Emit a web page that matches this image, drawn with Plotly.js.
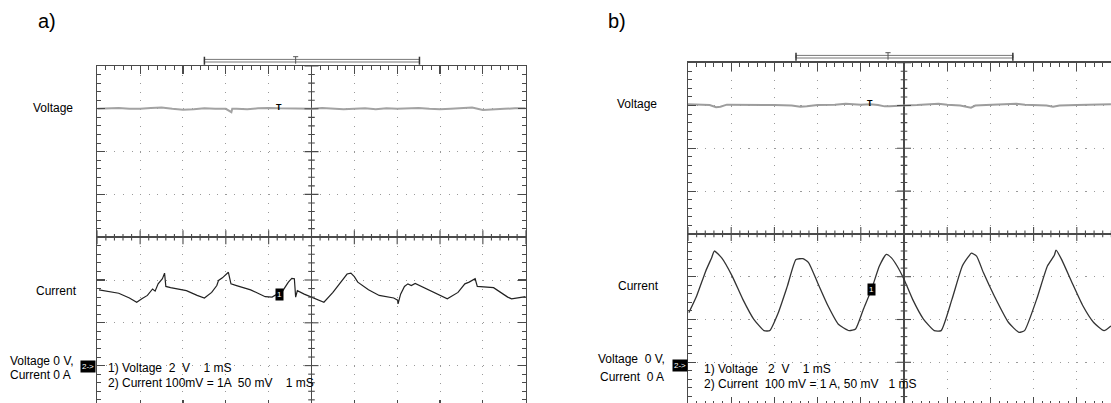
<!DOCTYPE html>
<html><head><meta charset="utf-8">
<script src="https://cdn.plot.ly/plotly-3.0.1.min.js"></script>
<style>html,body{margin:0;padding:0;overflow:hidden;background:#fff;width:1111px;height:403px}#plot{width:1125px;height:412px}</style>
</head><body><div id="plot"></div><script>
// ---- data (time in divisions of 1 mS, amplitude in divisions) ----
const panelLabels = ['a)', 'b)'];
const channelNames = ['Voltage', 'Current'];
const offsetTextA = ['Voltage 0 V,', 'Current 0 A'];
const offsetTextB = ['Voltage\u00A0 0 V,', 'Current\u00A0 0 A'];
const legendA = ['1) Voltage \u00A02 \u00A0V \u00A0\u00A0 1 mS', '2) Current 100mV = 1A \u00A050 mV \u00A0\u00A0 1 mS'];
const legendB = ['1) Voltage \u00A0 2 \u00A0V \u00A0\u00A0 1 mS', '2) Current \u00A0100 mV = 1 A, 50 mV \u00A0 1 mS'];

const voltA_t = [-5.0,-4.75,-4.5,-4.25,-4.0,-3.75,-3.5,-3.25,-3.0,-2.75,-2.5,-2.25,-2.0,-1.87,-1.85,-1.75,-1.5,-1.25,-1.0,-0.75,-0.5,-0.25,0.0,0.25,0.5,0.75,1.0,1.25,1.5,1.75,2.0,2.25,2.5,2.75,3.0,3.25,3.5,3.75,4.0,4.25,4.5,4.75,5.0];
const voltA_v = [3.00,3.01,3.02,3.00,3.00,3.02,3.03,3.00,2.98,2.99,3.01,3.00,3.00,2.92,3.00,3.00,2.99,3.01,3.02,3.01,3.01,3.00,3.00,3.02,3.01,2.99,3.00,3.01,2.99,3.01,3.00,3.01,3.02,3.00,2.99,3.00,3.01,3.03,2.97,2.99,3.00,3.01,3.01];

const currA_t = [-4.96,-4.5,-4.25,-4.08,-3.96,-3.83,-3.71,-3.65,-3.58,-3.48,-3.43,-3.40,-3.29,-2.92,-2.67,-2.5,-2.33,-2.21,-2.17,-2.08,-1.94,-1.88,-1.75,-1.42,-1.08,-0.92,-0.67,-0.54,-0.46,-0.40,-0.37,-0.33,-0.17,0.0,0.29,0.5,0.71,0.83,0.92,1.0,1.08,1.33,1.58,1.92,2.01,2.02,2.08,2.17,2.25,2.33,2.42,2.75,3.17,3.42,3.58,3.68,3.82,3.87,4.25,4.58,4.67,5.0];
const currA_v = [-1.23,-1.31,-1.42,-1.52,-1.44,-1.36,-1.21,-1.26,-1.09,-0.97,-0.84,-1.15,-1.18,-1.25,-1.36,-1.42,-1.29,-1.13,-1.01,-0.95,-0.82,-1.09,-1.13,-1.23,-1.39,-1.40,-1.25,-1.05,-0.96,-0.97,-1.40,-1.25,-1.33,-1.40,-1.52,-1.29,-1.01,-0.86,-0.84,-0.92,-1.05,-1.23,-1.36,-1.42,-1.47,-1.56,-1.33,-1.15,-1.09,-1.13,-1.08,-1.23,-1.44,-1.29,-1.09,-1.05,-0.97,-1.15,-1.18,-1.40,-1.44,-1.39];

const voltB_t = [-5.0,-4.75,-4.5,-4.35,-4.25,-4.1,-3.75,-3.5,-3.0,-2.6,-2.4,-2.25,-2.0,-1.6,-1.35,-1.0,-0.78,-0.6,-0.45,-0.33,-0.1,0.0,0.3,0.6,0.8,1.0,1.3,1.55,1.65,1.9,2.3,2.6,2.8,3.3,3.45,3.6,4.0,4.4,4.79];
const voltB_v = [3.03,3.02,3.01,2.96,2.97,3.02,3.02,3.01,3.01,3.00,2.97,2.98,3.01,3.02,3.04,3.02,3.03,3.01,2.98,2.98,3.00,3.00,3.01,3.02,3.04,3.02,3.00,2.95,3.00,3.01,3.02,3.04,3.02,3.00,2.97,3.00,3.01,3.02,3.03];

const currB_t = [-4.98,-4.8,-4.59,-4.45,-4.39,-4.22,-3.98,-3.73,-3.48,-3.24,-3.11,-2.91,-2.70,-2.5,-2.34,-2.21,-2.0,-1.76,-1.52,-1.27,-1.12,-0.94,-0.75,-0.57,-0.41,-0.29,-0.16,0.0,0.2,0.45,0.70,0.86,1.11,1.35,1.50,1.56,1.68,1.84,2.09,2.42,2.66,2.79,3.07,3.32,3.48,3.52,3.65,3.89,4.14,4.39,4.63,4.79];
const currB_v = [-1.84,-1.45,-0.87,-0.55,-0.40,-0.56,-0.98,-1.53,-1.99,-2.26,-2.26,-1.84,-1.22,-0.60,-0.58,-0.67,-1.14,-1.68,-2.11,-2.26,-2.22,-1.76,-1.29,-0.75,-0.48,-0.56,-0.75,-1.06,-1.53,-1.99,-2.26,-2.26,-1.53,-0.75,-0.52,-0.45,-0.52,-0.91,-1.45,-2.07,-2.30,-2.26,-1.53,-0.75,-0.50,-0.38,-0.60,-1.14,-1.68,-2.07,-2.26,-2.15];

const trigA = {t: -0.75, v: -1.35};
const trigB = {t: -0.75, v: -1.30};
const markA = {t: -0.77, v: 3.0};
const markB = {t: -0.78, v: 3.0};
const bracket = {from: -2.5, to: 2.52, mid: -0.37};

// ---- layout geometry (pixels) ----
const W = 1125, H = 412;
const px = x => x / W, py = y => 1 - y / H;
const A = {l: 97.3, r: 525.7, t: 66, b: 408.4};
const B = {l: 688, r: 1120, t: 62.7, b: 405.1};
const frameCol = '#4a4a4a';
const font = {family: 'Liberation Sans, Arial, sans-serif', size: 12, color: '#000'};

function axis(dom, rng, dash) {
  return {
    domain: dom, range: rng, fixedrange: true,
    showline: true, linecolor: frameCol, linewidth: 1.5, mirror: 'ticks',
    ticks: 'inside', dtick: 1, tick0: 0, ticklen: 8, tickwidth: 1.2, tickcolor: frameCol,
    minor: {dtick: 0.2, tick0: 0, ticks: 'inside', ticklen: 4, tickwidth: 1, tickcolor: frameCol, showgrid: false},
    showticklabels: false,
    showgrid: true, gridcolor: '#9a9a9a', gridwidth: 1, griddash: dash,
    zeroline: true, zerolinecolor: frameCol, zerolinewidth: 1.6
  };
}

const layout = {
  width: W, height: H, margin: {l: 0, r: 0, t: 0, b: 0},
  paper_bgcolor: '#fff', plot_bgcolor: '#fff', showlegend: false, font: font,
  xaxis: Object.assign(axis([px(A.l), px(A.r)], [-5, 5], '1px,7.56px'), {anchor: 'y'}),
  yaxis: Object.assign(axis([py(A.b), py(A.t)], [-4, 4], '1px,7.57px'), {anchor: 'x'}),
  xaxis2: Object.assign(axis([px(B.l), px(B.r)], [-5, 5], '1px,7.56px'), {anchor: 'y2'}),
  yaxis2: Object.assign(axis([py(B.b), py(B.t)], [-4, 4], '1.2px,7.44px'), {anchor: 'x2'}),
  shapes: [], annotations: []
};

// center cross tick marks
function centerTicks(xa, ya, xDivPx, yDivPx) {
  for (let k = -25; k <= 25; k++) {
    const h = (k % 5 === 0 ? 7 : 3.3) / yDivPx;
    layout.shapes.push({type: 'line', xref: xa, yref: ya, x0: k / 5, x1: k / 5, y0: -h, y1: h, line: {color: frameCol, width: 1.1}});
  }
  for (let k = -20; k <= 20; k++) {
    const h = (k % 5 === 0 ? 7 : 3.3) / xDivPx;
    layout.shapes.push({type: 'line', xref: xa, yref: ya, y0: k / 5, y1: k / 5, x0: -h, x1: h, line: {color: frameCol, width: 1.1}});
  }
}
centerTicks('x', 'y', (A.r - A.l) / 10, (A.b - A.t) / 8);
centerTicks('x2', 'y2', (B.r - B.l) / 10, (B.b - B.t) / 8);

// trigger bracket above each screen
function bracketShapes(xa, yPix) {
  layout.shapes.push({type: 'rect', xref: xa, yref: 'paper', x0: bracket.from, x1: bracket.to, y0: py(yPix + 1.3), y1: py(yPix - 1.3), line: {color: '#777', width: 1}, fillcolor: '#fff'});
  [bracket.from, bracket.to].forEach(x => layout.shapes.push({type: 'line', xref: xa, yref: 'paper', x0: x, x1: x, y0: py(yPix + 4), y1: py(yPix - 4), line: {color: '#333', width: 1.5}}));
  layout.shapes.push({type: 'line', xref: xa, yref: 'paper', x0: bracket.mid, x1: bracket.mid, y0: py(yPix + 3), y1: py(yPix - 4), line: {color: '#555', width: 1}});
  layout.shapes.push({type: 'line', xref: xa, yref: 'paper', x0: bracket.mid - 0.06, x1: bracket.mid + 0.06, y0: py(yPix - 4), y1: py(yPix - 4), line: {color: '#555', width: 1}});
}
bracketShapes('x', 60.7);
bracketShapes('x2', 56.7);

function ann(o) { layout.annotations.push(Object.assign({showarrow: false, xref: 'paper', yref: 'paper', font: font, yanchor: 'middle'}, o)); }
// panel letters
ann({text: panelLabels[0], x: px(47), y: py(21), xanchor: 'center', font: Object.assign({}, font, {size: 20})});
ann({text: panelLabels[1], x: px(617), y: py(21), xanchor: 'center', font: Object.assign({}, font, {size: 20})});
// channel names
ann({text: channelNames[0], x: px(75), y: py(108), xanchor: 'right'});
ann({text: channelNames[1], x: px(79), y: py(291), xanchor: 'right'});
ann({text: channelNames[0], x: px(659), y: py(104), xanchor: 'right'});
ann({text: channelNames[1], x: px(661), y: py(286), xanchor: 'right'});
// offsets
ann({text: offsetTextA[0], x: px(8), y: py(361), xanchor: 'left'});
ann({text: offsetTextA[1], x: px(8), y: py(375), xanchor: 'left'});
ann({text: offsetTextB[0], x: px(596), y: py(359), xanchor: 'left'});
ann({text: offsetTextB[1], x: px(598), y: py(377), xanchor: 'left'});
// channel-2 ground marker
ann({text: '2->', x: px(88), y: py(366), xanchor: 'center', bgcolor: '#000', borderpad: 1, font: Object.assign({}, font, {size: 8, color: '#fff'})});
ann({text: '2->', x: px(680), y: py(365), xanchor: 'center', bgcolor: '#000', borderpad: 1, font: Object.assign({}, font, {size: 8, color: '#fff'})});
// scale legends
ann({text: legendA[0], x: px(106), y: py(368), xanchor: 'left'});
ann({text: legendA[1], x: px(106), y: py(383), xanchor: 'left'});
ann({text: legendB[0], x: px(702), y: py(369), xanchor: 'left'});
ann({text: legendB[1], x: px(702), y: py(384), xanchor: 'left'});
// trigger markers
ann({text: '1', xref: 'x', yref: 'y', x: trigA.t, y: trigA.v, xanchor: 'center', bgcolor: '#000', borderpad: 1, font: Object.assign({}, font, {size: 8, color: '#fff'})});
ann({text: '1', xref: 'x2', yref: 'y2', x: trigB.t, y: trigB.v, xanchor: 'center', bgcolor: '#000', borderpad: 1, font: Object.assign({}, font, {size: 8, color: '#fff'})});
ann({text: '<b>T</b>', xref: 'x', yref: 'y', x: markA.t, y: markA.v + 0.05, xanchor: 'center', font: Object.assign({}, font, {size: 9})});
ann({text: '<b>T</b>', xref: 'x2', yref: 'y2', x: markB.t, y: markB.v + 0.05, xanchor: 'center', font: Object.assign({}, font, {size: 9})});

const data = [
  {x: voltA_t, y: voltA_v, xaxis: 'x', yaxis: 'y', mode: 'lines', line: {color: '#a3a3a3', width: 2}, hoverinfo: 'skip'},
  {x: currA_t, y: currA_v, xaxis: 'x', yaxis: 'y', mode: 'lines', line: {color: '#222', width: 1.2}, hoverinfo: 'skip'},
  {x: voltB_t, y: voltB_v, xaxis: 'x2', yaxis: 'y2', mode: 'lines', line: {color: '#9d9d9d', width: 2}, hoverinfo: 'skip'},
  {x: currB_t, y: currB_v, xaxis: 'x2', yaxis: 'y2', mode: 'lines', line: {color: '#333', width: 1.3, shape: 'spline', smoothing: 0.5}, hoverinfo: 'skip'}
];
Plotly.newPlot('plot', data, layout, {staticPlot: true, displayModeBar: false});
</script></body></html>
